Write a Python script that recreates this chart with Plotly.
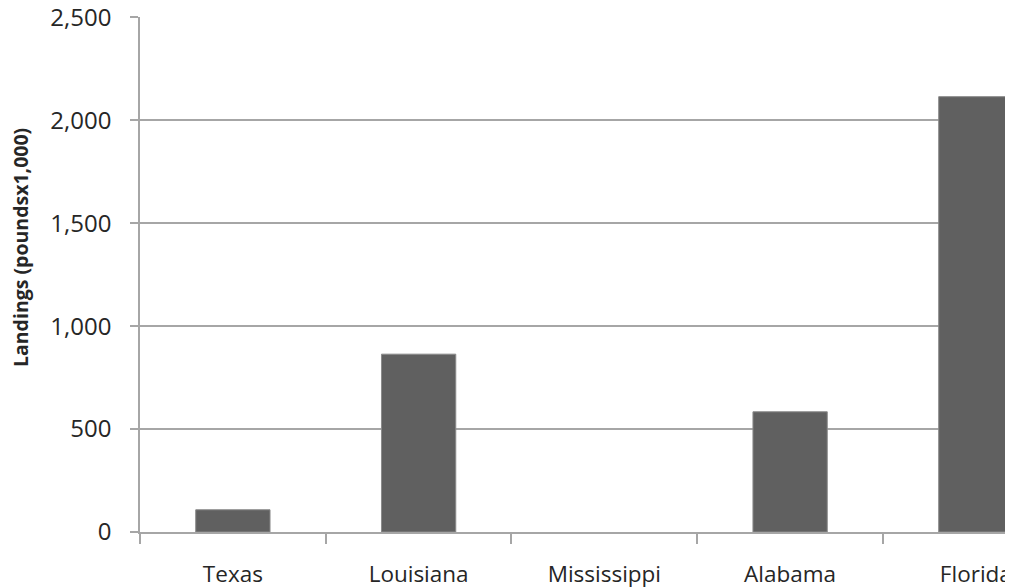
import plotly.graph_objects as go

states = ["Texas", "Louisiana", "Mississippi", "Alabama", "Florida"]
landings = [108, 864, 0, 584, 2115]
y_ticks = [0, 500, 1000, 1500, 2000, 2500]
y_tick_text = ["0", "500", "1,000", "1,500", "2,000", "2,500"]

grid_color = "#a6a6a6"
text_color = "#262626"

# the page body has an 8px margin, so the figure is offset by 8px
fig = go.Figure()
fig.add_trace(go.Bar(
    x=states, y=landings,
    marker=dict(color="#606060",
                line=dict(color="#8a8a8a", width=[1 if v > 0 else 0 for v in landings])),
    width=0.4,
))

fig.update_layout(
    width=1013, height=588,
    margin=dict(l=132, r=8, t=9, b=64, autoexpand=False),
    paper_bgcolor="white", plot_bgcolor="white",
    showlegend=False,
    font=dict(family="Open Sans", color=text_color, size=23),
)

fig.update_xaxes(
    type="category", range=[-0.5, 4.2],
    showline=True, linecolor=grid_color, linewidth=1.5,
    ticks="outside", tickson="boundaries", ticklen=10, tickcolor=grid_color, tickwidth=1.5,
    showgrid=False, ticklabelstandoff=21, automargin=False,
    ticklabeloverflow="allow",
    tickfont=dict(size=22.5),
)
fig.update_yaxes(
    range=[0, 2502], tickvals=y_ticks, ticktext=y_tick_text,
    showline=True, linecolor=grid_color, linewidth=1.5,
    ticks="outside", ticklen=8, tickcolor=grid_color, tickwidth=1.5,
    showgrid=True, gridcolor=grid_color, gridwidth=1.5,
    zeroline=False, ticklabelstandoff=14, automargin=False,
    ticklabeloverflow="allow",
    tickfont=dict(size=24),
)

fig.add_annotation(
    text="<b>Landings (poundsx1,000)</b>",
    xref="paper", yref="paper",
    x=(12 - 132) / 873, y=(524 - 239) / 515,
    xanchor="center", yanchor="middle",
    textangle=-90, showarrow=False,
    font=dict(family="Open Sans", size=19.5, color=text_color),
)

fig.write_html("out.html")
